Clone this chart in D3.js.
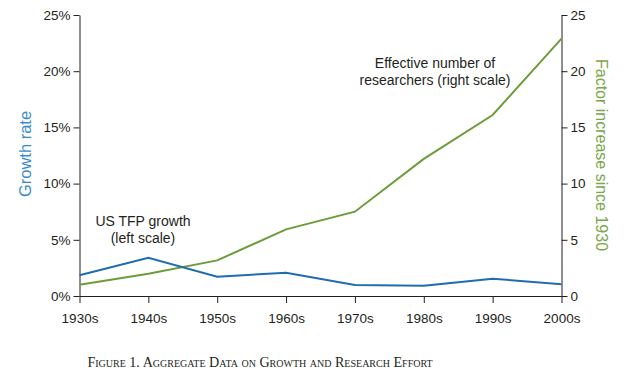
<!DOCTYPE html>
<html>
<head>
<meta charset="utf-8">
<script src="https://cdn.jsdelivr.net/npm/d3@7"></script>
<style>
  body { margin: 0; background: #fff; }
  text { font-family: "Liberation Sans", Arial, sans-serif; }
</style>
</head>
<body>
<div id="chart"></div>
<script>
// decades on the x axis
var decades = ["1930s", "1940s", "1950s", "1960s", "1970s", "1980s", "1990s", "2000s"];
// US TFP growth, percent (left scale)
var tfpGrowth = [1.84, 3.4, 1.72, 2.07, 0.98, 0.92, 1.54, 1.04];
// effective number of researchers, factor increase since 1930 (right scale)
var researchers = [1, 1.98, 3.17, 5.93, 7.5, 12.2, 16.1, 22.9];
var leftTicks = [0, 5, 10, 15, 20, 25];
var rightTicks = [0, 5, 10, 15, 20, 25];

var width = 631, height = 380;
var plotLeft = 79.5, plotRight = 561.5, plotTop = 15, plotBottom = 296;

var svg = d3.select("#chart").append("svg")
  .attr("width", width)
  .attr("height", height);

var x = d3.scalePoint().domain(decades).range([plotLeft, plotRight]);
var yLeft = d3.scaleLinear().domain([0, 25]).range([plotBottom, plotTop]);
var yRight = d3.scaleLinear().domain([0, 25]).range([plotBottom, plotTop]);

// axes
var xAxis = d3.axisBottom(x).tickSizeInner(7).tickSizeOuter(0).tickPadding(10);
var lAxis = d3.axisLeft(yLeft).tickValues(leftTicks).tickSizeOuter(0).tickSizeInner(6)
  .tickFormat(function(d) { return d + "%"; });
var rAxis = d3.axisRight(yRight).tickValues(rightTicks).tickSizeOuter(0).tickSizeInner(6);

function styleAxis(g) {
  g.selectAll("path, line").attr("stroke", "#231f20").attr("stroke-width", 1);
  g.selectAll("text").attr("fill", "#231f20").style("font-size", "13.5px")
    .style("font-family", "'Liberation Sans', Arial, sans-serif");
}

svg.append("g").attr("transform", "translate(0," + plotBottom + ")").call(xAxis).call(styleAxis);
svg.append("g").attr("transform", "translate(" + plotLeft + ",0)").call(lAxis).call(styleAxis);
svg.append("g").attr("transform", "translate(" + plotRight + ",0)").call(rAxis).call(styleAxis);

// lines
var blue = "#1f6db0", green = "#6c9d3a";
var lineL = d3.line().x(function(d, i) { return x(decades[i]); }).y(function(d) { return yLeft(d); });
var lineR = d3.line().x(function(d, i) { return x(decades[i]); }).y(function(d) { return yRight(d); });

svg.append("path").attr("d", lineR(researchers))
  .attr("fill", "none").attr("stroke", green).attr("stroke-width", 2);
svg.append("path").attr("d", lineL(tfpGrowth))
  .attr("fill", "none").attr("stroke", blue).attr("stroke-width", 2);

// axis titles
svg.append("text")
  .attr("transform", "translate(31,154) rotate(-90)")
  .attr("text-anchor", "middle")
  .attr("fill", "#3a8dca")
  .style("font-size", "16.5px")
  .text("Growth rate");

svg.append("text")
  .attr("transform", "translate(596,155) rotate(90)")
  .attr("text-anchor", "middle")
  .attr("fill", "#7aa84a")
  .style("font-size", "16px")
  .text("Factor increase since 1930");

// annotations
var notes = svg.append("g").attr("fill", "#231f20").style("font-size", "14px").attr("text-anchor", "middle");
notes.append("text").attr("x", 435).attr("y", 68).text("Effective number of");
notes.append("text").attr("x", 435).attr("y", 85).text("researchers (right scale)");
notes.append("text").attr("x", 143).attr("y", 226).text("US TFP growth");
notes.append("text").attr("x", 143).attr("y", 243).text("(left scale)");

// caption
svg.append("text")
  .attr("x", 260).attr("y", 367)
  .attr("text-anchor", "middle")
  .attr("fill", "#231f20")
  .style("font-family", "'Liberation Serif', 'Times New Roman', serif")
  .style("font-size", "14.1px")
  .style("font-variant", "small-caps")
  .text("Figure 1. Aggregate Data on Growth and Research Effort");
</script>
</body>
</html>
